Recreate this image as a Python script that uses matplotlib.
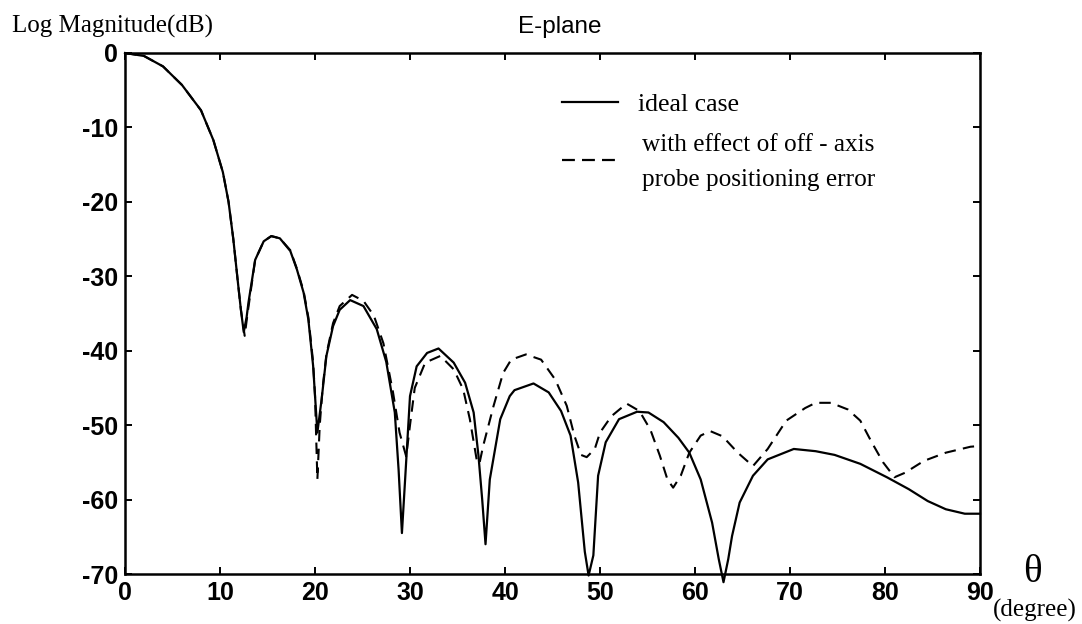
import matplotlib
matplotlib.use("Agg")
import matplotlib.pyplot as plt
from matplotlib.lines import Line2D

plt.rcParams["axes.unicode_minus"] = False

# ---- data ----
ideal_theta = [0, 2, 4, 6, 8, 9.3, 10.3, 10.9, 11.4, 11.9, 12.2, 12.5, 12.8, 13.0, 13.7,
               14.6, 15.4, 16.3, 17.4, 18.1, 18.8, 19.3, 19.8, 20.1, 20.25, 20.7, 21.2,
               21.9, 22.6, 23.7, 25.1, 26.5, 27.5, 28.4, 28.8, 29.15, 29.5, 30.0, 30.7,
               31.8, 33.0, 34.6, 35.8, 36.7, 37.2, 37.6, 37.95, 38.4, 39.5, 40.5, 41.0,
               43.0, 44.6, 45.9, 46.9, 47.7, 48.4, 48.8, 49.3, 49.8, 50.6, 52.0, 53.9,
               55.1, 56.7, 58.25, 59.4, 60.6, 61.8, 62.5, 63.0, 63.5, 63.9, 64.7, 66.1,
               67.65, 70.4, 72.7, 74.7, 77.4, 80.2, 82.5, 84.5, 86.4, 88.4, 90]
ideal_db = [0, -0.4, -1.8, -4.3, -7.7, -11.7, -16.0, -20.0, -25.0, -31.0, -34.5, -37.5,
            -35.5, -33.5, -27.8, -25.3, -24.6, -24.9, -26.6, -29.1, -32.2, -35.8, -42.0,
            -48.0, -51.0, -46.5, -40.7, -36.7, -34.5, -33.2, -34.0, -37.1, -41.5, -48.3,
            -56.0, -64.5, -57.0, -46.1, -42.1, -40.3, -39.7, -41.6, -44.3, -48.3, -54.0,
            -60.0, -66.0, -57.3, -49.2, -46.1, -45.3, -44.4, -45.6, -48.1, -51.4, -57.7,
            -67.0, -70.2, -67.5, -56.8, -52.3, -49.2, -48.2, -48.3, -49.6, -51.7, -53.7,
            -57.3, -63.1, -68.0, -71.1, -68.0, -64.9, -60.4, -56.8, -54.6, -53.2, -53.5,
            -54.0, -55.2, -57.0, -58.6, -60.2, -61.3, -61.9, -61.9]

error_theta = [0, 2, 4, 6, 8, 9.3, 10.3, 10.9, 11.4, 11.9, 12.2, 12.6, 12.9, 13.7, 14.6,
               15.4, 16.3, 17.4, 18.1, 18.8, 19.3, 19.8, 20.0, 20.25, 20.5, 20.8, 21.2,
               21.9, 22.6, 23.9, 25.1, 26.2, 27.2, 28.2, 28.9, 29.6, 30.0, 30.5, 31.6,
               33.2, 34.6, 35.6, 36.3, 37.0, 37.3, 37.7, 38.8, 39.8, 40.65, 42.2, 43.8,
               45.3, 46.5, 47.3, 48.0, 48.6, 49.45, 50.0, 51.2, 52.8, 54.15, 55.3, 56.3,
               57.1, 57.7, 58.5, 59.4, 60.6, 61.6, 62.9, 64.5, 66.1, 67.65, 69.6, 71.6,
               72.7, 74.3, 76.1, 77.4, 78.6, 79.8, 81.0, 82.1, 84.1, 86.4, 89.0, 90]
error_db = [0, -0.4, -1.8, -4.3, -7.7, -11.7, -16.0, -20.0, -25.0, -31.0, -34.5, -38.0,
            -35.0, -27.8, -25.3, -24.6, -24.9, -26.5, -29.0, -32.0, -35.5, -41.5, -46.0,
            -57.3, -50.0, -45.0, -40.5, -36.3, -34.0, -32.5, -33.3, -35.3, -39.0, -45.5,
            -51.0, -54.2, -50.0, -45.0, -41.6, -40.7, -42.5, -45.2, -49.2, -54.5, -55.2,
            -52.8, -47.4, -43.0, -41.2, -40.5, -41.2, -43.9, -47.4, -51.4, -54.0, -54.3,
            -53.2, -51.0, -48.8, -47.1, -48.1, -50.6, -54.1, -57.3, -58.4, -56.8, -53.7,
            -51.4, -50.8, -51.5, -53.7, -55.5, -53.2, -49.4, -47.7, -47.0, -47.0, -47.9,
            -49.4, -52.3, -55.0, -57.0, -56.4, -54.8, -53.7, -52.9, -52.8]

x_ticks = [0, 10, 20, 30, 40, 50, 60, 70, 80, 90]
y_ticks = [0, -10, -20, -30, -40, -50, -60, -70]

W, H = 1082, 624
fig = plt.figure(figsize=(W / 100, H / 100), dpi=100)
ax = fig.add_axes([125 / W, 1 - 574 / H, (980 - 125) / W, (574 - 53) / H])

ax.plot(ideal_theta, ideal_db, color="black", lw=1.6, clip_on=False,
        solid_joinstyle="round")
ax.plot(error_theta, error_db, color="black", lw=1.5, linestyle=(0, (5.5, 3.5)),
        clip_on=False)

ax.set_xlim(0, 90)
ax.set_ylim(-70, 0)
ax.set_xticks(x_ticks)
ax.set_yticks(y_ticks)
ax.tick_params(direction="in", length=5, width=1.4, top=True, right=True,
               labelsize=18, pad=5)
for lab in ax.get_xticklabels() + ax.get_yticklabels():
    lab.set_fontfamily("Liberation Sans")
    lab.set_fontweight("bold")
for s in ax.spines.values():
    s.set_linewidth(1.8)

def fx(px):
    return px / W

def fy(py):
    return 1 - py / H

serif = "Liberation Serif"
sans = "Liberation Sans"

fig.text(fx(12), fy(33), "Log Magnitude(dB)", family=serif, fontsize=18,
         va="baseline", ha="left")
fig.text(fx(560), fy(33), "E-plane", family=sans, fontsize=17.5, va="baseline",
         ha="center")

# legend
fig.add_artist(Line2D([fx(562), fx(618)], [fy(102), fy(102)], color="black", lw=1.6))
fig.add_artist(Line2D([fx(562), fx(618)], [fy(160), fy(160)], color="black", lw=1.6,
                      linestyle=(0, (5.8, 3.2))))
fig.text(fx(638), fy(111), "ideal case", family=serif, fontsize=18.5, va="baseline")
fig.text(fx(642), fy(151), "with effect of off - axis", family=serif, fontsize=18.2,
         va="baseline")
fig.text(fx(642), fy(186), "probe positioning error", family=serif, fontsize=18.2,
         va="baseline")

# axis label
fig.text(fx(1032), fy(572), "θ", family=serif, fontsize=28, ha="center", va="center")
fig.text(fx(1035), fy(610), "(degree)", family=serif, fontsize=18, ha="center",
         va="center")

fig.savefig("out.png", dpi=100)
